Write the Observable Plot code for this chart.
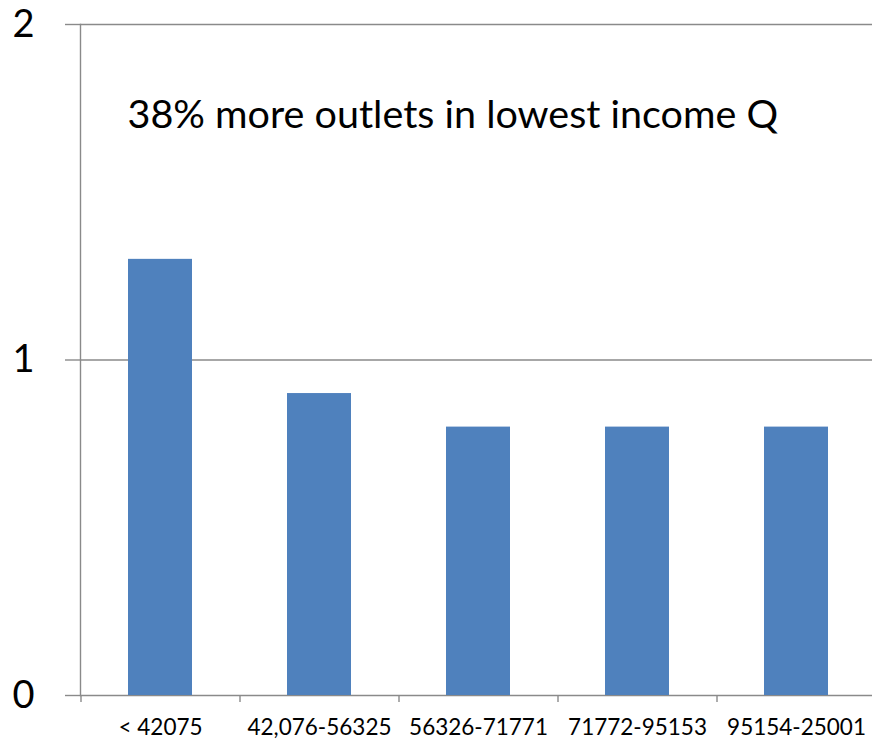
<!DOCTYPE html>
<html>
<head>
<meta charset="utf-8">
<script src="https://cdn.jsdelivr.net/npm/d3@7"></script>
<script src="https://cdn.jsdelivr.net/npm/@observablehq/plot@0.6"></script>
<style>
  html, body { margin: 0; padding: 0; background: #fff; }
  #chart svg { display: block; }
</style>
</head>
<body>
<div id="chart"></div>
<script>
const categories = ["< 42075", "42,076-56325", "56326-71771", "71772-95153", "95154-25001"];
const values = [1.3, 0.9, 0.8, 0.8, 0.8];
const yTicks = [0, 1, 2];
const annotation = "38% more outlets in lowest income Q";

const data = categories.map((c, i) => ({category: c, value: values[i]}));

const W = 872, H = 742;
const mL = 80, mR = -3, mT = 24, mB = 47;
const step = (W - mL - mR) / categories.length;
const font = "Lato, 'Open Sans', sans-serif";
const gridColor = "#8a8a8a";

const chart = Plot.plot({
  width: W,
  height: H,
  marginLeft: mL,
  marginRight: mR,
  marginTop: mT,
  marginBottom: mB,
  style: {fontFamily: font, background: "#fff", color: "#000", overflow: "visible"},
  x: {domain: categories, paddingInner: 0.6, paddingOuter: 0.3, label: null},
  y: {domain: [0, 2], label: null},
  marks: [
    Plot.gridY(yTicks, {stroke: gridColor, strokeOpacity: 1, strokeWidth: 1.4}),
    Plot.axisY(yTicks, {tickSize: 15, tickPadding: 31, stroke: gridColor, strokeWidth: 1.4, fontSize: 38, tickFormat: d3.format("d"), label: null}),
    Plot.frame({anchor: "left", stroke: gridColor, strokeWidth: 1.4}),
    Plot.ruleX(data, {x: "category", y1: 0, y2: 0, insetBottom: -7, dx: -step / 2, stroke: gridColor, strokeWidth: 1.4}),
    Plot.barY(data, {x: "category", y: "value", fill: "#4f81bd"}),
    Plot.axisX({tickSize: 0, tickPadding: 24, fontSize: 22.5, label: null}),
    Plot.text([annotation], {text: d => d, frameAnchor: "top-left", dx: 47, dy: 103, fontSize: 39.5, textAnchor: "start", lineAnchor: "bottom", fill: "#000"})
  ]
});
document.getElementById("chart").appendChild(chart);
</script>
</body>
</html>
